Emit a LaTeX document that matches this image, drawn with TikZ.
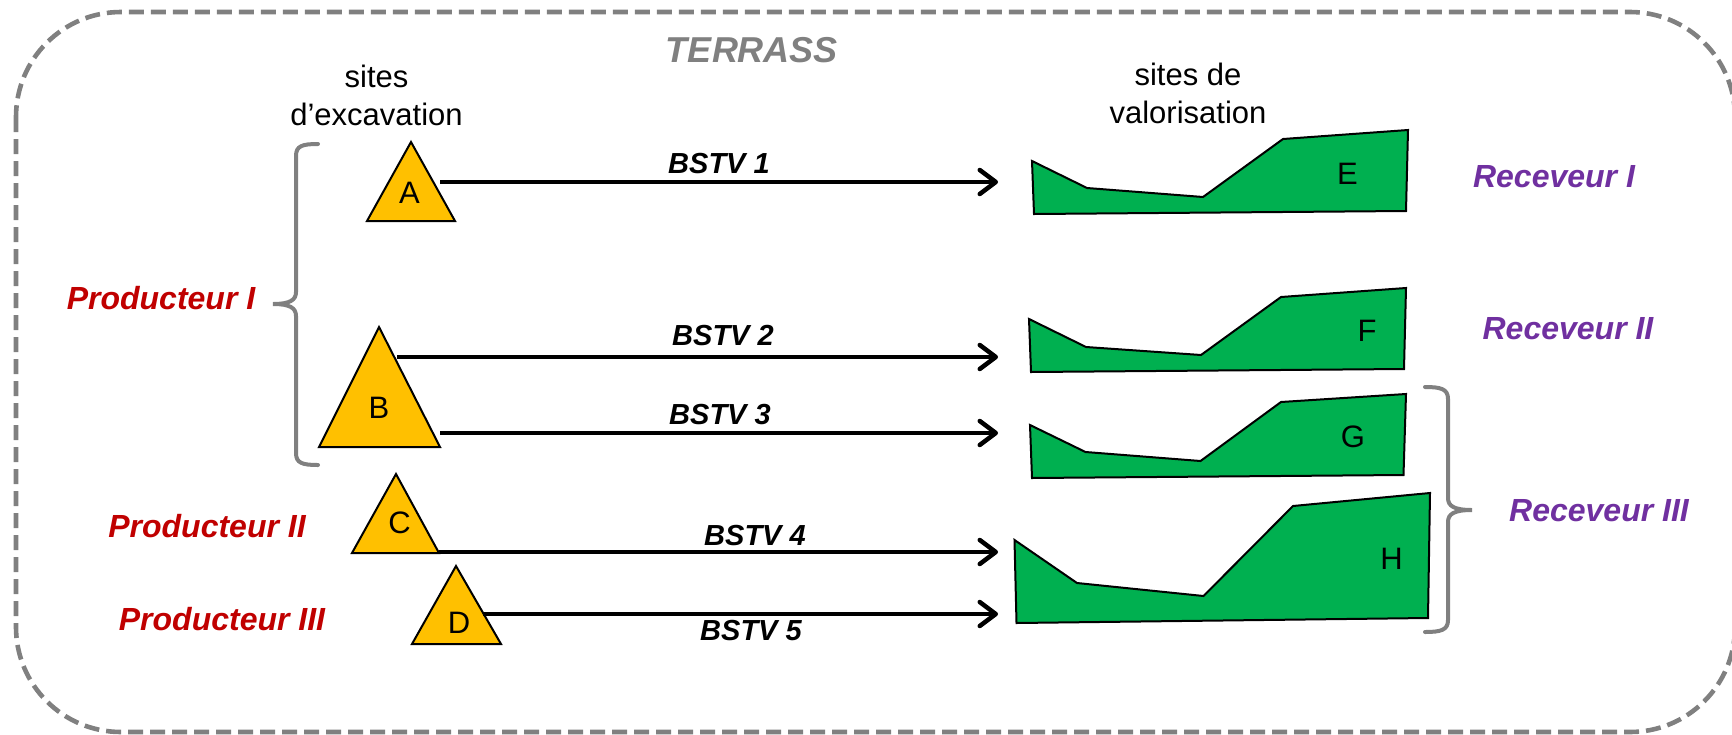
\documentclass[tikz,border=0pt]{standalone}
\usepackage{fontspec}
\setmainfont{Liberation Sans}
\usetikzlibrary{arrows.meta}
\definecolor{frameGray}{RGB}{128,128,128}
\definecolor{triYellow}{RGB}{255,192,0}
\definecolor{siteGreen}{RGB}{0,176,80}
\definecolor{prodRed}{RGB}{192,0,0}
\definecolor{recPurple}{RGB}{112,48,160}
\begin{document}
\begin{tikzpicture}[x=1pt,y=-1pt,
  frame/.style={draw=frameGray, line width=4.6pt, dash pattern=on 15pt off 7pt, rounded corners=105pt},
  excav/.style={draw=black, line width=2pt, fill=triYellow, line join=miter},
  valor/.style={draw=black, line width=2pt, fill=siteGreen, line join=miter},
  flow/.style={line width=4.5pt, -{Straight Barb[length=16pt,width=24pt,round]}},
  flowlbl/.style={font=\fontsize{29}{34}\selectfont\bfseries\itshape, anchor=base, inner sep=0pt},
  letter/.style={font=\fontsize{31}{38}\selectfont, inner sep=0pt},
  head/.style={font=\fontsize{31}{38}\selectfont, align=center, anchor=north, inner sep=0pt},
  prod/.style={font=\fontsize{32}{38}\selectfont\bfseries\itshape, text=prodRed, anchor=base, inner sep=0pt},
  recv/.style={font=\fontsize{32}{38}\selectfont\bfseries\itshape, text=recPurple, anchor=base, inner sep=0pt},
  bracket/.style={draw=frameGray, line width=4pt, line cap=round}
]
\useasboundingbox (0,0) rectangle (1732,734);
% frame
\draw[frame] (16,12) rectangle (1735,732);
\node[font=\fontsize{36}{40}\selectfont\bfseries\itshape, text=frameGray, anchor=base, inner sep=0pt] (terrass) at (752,62) {TERRASS};
% headings
\node[head] (excavlbl) at (376.5,65) {sites\\d’excavation};
\node[head] (valorlbl) at (1188,63) {sites de\\valorisation};
% excavation sites
\draw[excav] (411,142) -- (455,221) -- (367,221) -- cycle;
\draw[excav] (379,327) -- (440,447) -- (319,447) -- cycle;
\draw[excav] (396,474) -- (439,553) -- (352,553) -- cycle;
\draw[excav] (456,566) -- (501,644) -- (412,644) -- cycle;
\node[letter] (A) at (409.5,192.5) {A};
\node[letter] (B) at (379,408) {B};
\node[letter] (C) at (399.5,523) {C};
\node[letter] (D) at (459,623) {D};
% valorisation sites
\draw[valor] (1032,161) -- (1087,188) -- (1203,197) -- (1283,139) -- (1408,130) -- (1406,211) -- (1034,214) -- cycle;
\draw[valor] (1029,319) -- (1086,347) -- (1201,355) -- (1281,297) -- (1406,288) -- (1404,369) -- (1031,372) -- cycle;
\draw[valor] (1030,425) -- (1085.5,452) -- (1200.5,461) -- (1281,402) -- (1406,394) -- (1403.5,475) -- (1032,478) -- cycle;
\draw[valor] (1014.5,540) -- (1077,583) -- (1203.5,596) -- (1293,506) -- (1430,493) -- (1428,618) -- (1016.5,623) -- cycle;
\node[letter] (E) at (1347.5,174) {E};
\node[letter] (F) at (1367,331) {F};
\node[letter] (G) at (1353,437) {G};
\node[letter] (H) at (1391.5,559) {H};
% connector ends
\coordinate (A-out) at (440,182);
\coordinate (E-in) at (998,182);
\coordinate (B-out2) at (397,357);
\coordinate (F-in) at (998,357);
\coordinate (B-out3) at (440,433);
\coordinate (G-in) at (998,433);
\coordinate (C-out) at (439,552);
\coordinate (H-in4) at (998,552);
\coordinate (D-out) at (483,614);
\coordinate (H-in5) at (998,614);
\draw[flow] (A-out) -- (E-in);
\draw[flow] (B-out2) -- (F-in);
\draw[flow] (B-out3) -- (G-in);
\draw[flow] (C-out) -- (H-in4);
\draw[flow] (D-out) -- (H-in5);
\node[flowlbl] (bstv1) at (719,173) {BSTV 1};
\node[flowlbl] (bstv2) at (723,345) {BSTV 2};
\node[flowlbl] (bstv3) at (720,424) {BSTV 3};
\node[flowlbl] (bstv4) at (755,545) {BSTV 4};
\node[flowlbl] (bstv5) at (751,640) {BSTV 5};
% producers
\node[prod] (prod1) at (161,309) {Producteur I};
\node[prod] (prod2) at (207,537) {Producteur II};
\node[prod] (prod3) at (222,630) {Producteur III};
% receivers
\node[recv] (rec1) at (1554,187) {Receveur I};
\node[recv] (rec2) at (1568,339) {Receveur II};
\node[recv] (rec3) at (1599,521) {Receveur III};
% braces
\draw[bracket] (318,144) .. controls (302,144) and (296,146) .. (296,156) -- (296,292) .. controls (296,300) and (290,304) .. (273,304) .. controls (290,304) and (296,308) .. (296,316) -- (296,453) .. controls (296,463) and (302,465) .. (318,465);
\draw[bracket] (1425,387) .. controls (1441,387) and (1448,389) .. (1448,399) -- (1448,498) .. controls (1448,506) and (1454,510) .. (1472,510) .. controls (1454,510) and (1448,514) .. (1448,522) -- (1448,620) .. controls (1448,630) and (1441,632) .. (1425,632);
\end{tikzpicture}
\end{document}
